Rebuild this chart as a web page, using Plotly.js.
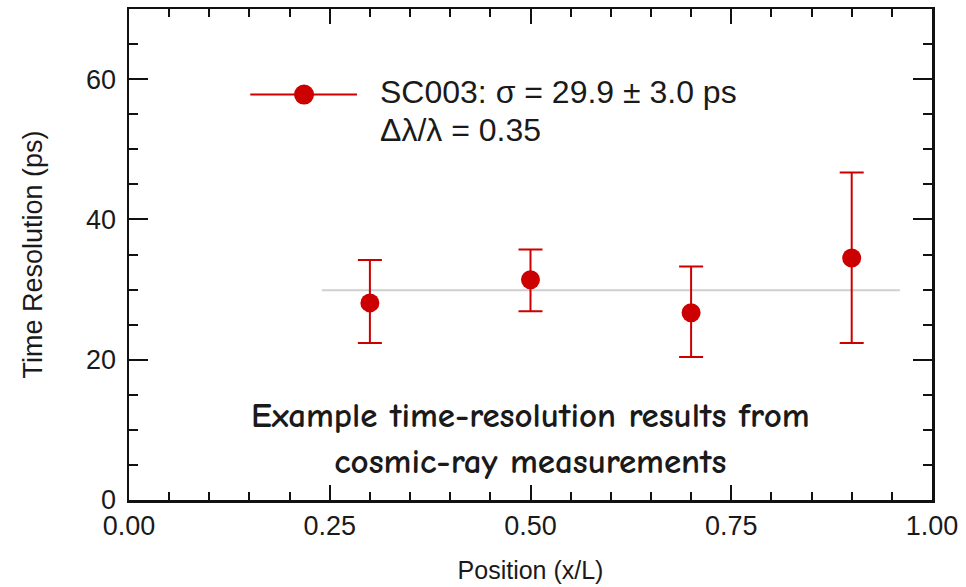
<!DOCTYPE html>
<html>
<head>
<meta charset="utf-8">
<script src="https://cdn.plot.ly/plotly-3.0.1.min.js"></script>
<style>
  html, body { margin: 0; padding: 0; background: #ffffff; }
  #chart { width: 966px; height: 587px; }
</style>
</head>
<body>
<div id="chart"></div>
<script>
// Measured time resolution along the bar (position as fraction of length)
const positions = [0.3, 0.5, 0.7, 0.9];
const resolution = [28.1, 31.4, 26.7, 34.5];
const errUpper = [6.1, 4.3, 6.6, 12.2];
const errLower = [5.7, 4.5, 6.3, 12.1];

// Fitted constant resolution and its span
const sigmaFit = 29.9;
const sigmaErr = 3.0;
const fitSpan = [0.24, 0.96];
const spread = 0.35;

const xTicks = [0, 0.25, 0.5, 0.75, 1.0];
const yTicks = [0, 20, 40, 60];

const red = '#cc0000';
const ink = '#1a1a1a';
const sans = 'Liberation Sans, Arial, sans-serif';

const fitLine = {
  x: fitSpan,
  y: fitSpan.map(() => sigmaFit),
  mode: 'lines',
  line: { color: '#cfcfcf', width: 2 },
  hoverinfo: 'skip',
  showlegend: false
};

const points = {
  x: positions,
  y: resolution,
  mode: 'markers',
  marker: { color: red, size: 19 },
  error_y: {
    type: 'data',
    symmetric: false,
    array: errUpper,
    arrayminus: errLower,
    color: red,
    thickness: 2,
    width: 12
  },
  showlegend: false
};

const axisCommon = {
  showline: true,
  linecolor: '#111',
  linewidth: 2.5,
  mirror: 'ticks',
  ticks: 'inside',
  tickcolor: '#111',
  tickwidth: 2,
  showgrid: false,
  zeroline: false,
  tickfont: { family: sans, size: 27, color: ink }
};

const layout = {
  width: 966,
  height: 587,
  margin: { l: 129, r: 34, t: 9, b: 87 },
  paper_bgcolor: '#ffffff',
  plot_bgcolor: '#ffffff',
  xaxis: Object.assign({}, axisCommon, {
    range: [0, 1],
    tickvals: xTicks,
    ticktext: xTicks.map(v => v.toFixed(2)),
    ticklen: 15,
    minor: { dtick: 0.05, ticks: 'inside', ticklen: 8, tickwidth: 2, tickcolor: '#111', showgrid: false },
    title: {
      text: 'Position (x/L)',
      font: { family: sans, size: 25, color: ink },
      standoff: 22
    }
  }),
  yaxis: Object.assign({}, axisCommon, {
    range: [0, 70],
    tickvals: yTicks,
    ticktext: yTicks.map(String),
    ticklen: 19,
    ticklabelstandoff: 5,
    minor: { dtick: 5, ticks: 'inside', ticklen: 9, tickwidth: 2, tickcolor: '#111', showgrid: false },
    title: {
      text: 'Time Resolution (ps)',
      font: { family: sans, size: 27, color: ink },
      standoff: 36
    }
  }),
  shapes: [
    // legend sample: line with a filled dot
    { type: 'line', xref: 'x', yref: 'y', x0: 0.151, x1: 0.284, y0: 57.8, y1: 57.8,
      line: { color: red, width: 2 } },
    { type: 'circle', xref: 'x', yref: 'y', xsizemode: 'pixel', ysizemode: 'pixel',
      xanchor: 0.218, yanchor: 57.8, x0: -10, x1: 10, y0: -10, y1: 10,
      fillcolor: red, line: { color: red, width: 0 } }
  ],
  annotations: [
    {
      xref: 'x', yref: 'y', x: 0.31, y: 58.2, xanchor: 'left', yanchor: 'middle',
      text: 'SC003: σ = ' + sigmaFit.toFixed(1) + ' ± ' + sigmaErr.toFixed(1) + ' ps',
      showarrow: false,
      font: { family: sans, size: 32, color: ink }
    },
    {
      xref: 'x', yref: 'y', x: 0.31, y: 52.8, xanchor: 'left', yanchor: 'middle',
      text: 'Δλ/λ = ' + spread.toFixed(2),
      showarrow: false,
      font: { family: sans, size: 32, color: ink }
    },
    {
      xref: 'x', yref: 'y', x: 0.5, y: 8.8, xanchor: 'center', yanchor: 'middle',
      text: 'Example time-resolution results from<br>cosmic-ray measurements',
      align: 'center',
      showarrow: false,
      font: { family: '"Comic Sans MS", "Comic Neue", "DejaVu Sans", sans-serif', size: 35, weight: 'bold', color: ink }
    }
  ]
};

Plotly.newPlot('chart', [fitLine, points], layout, { displayModeBar: false, staticPlot: true });
</script>
</body>
</html>
